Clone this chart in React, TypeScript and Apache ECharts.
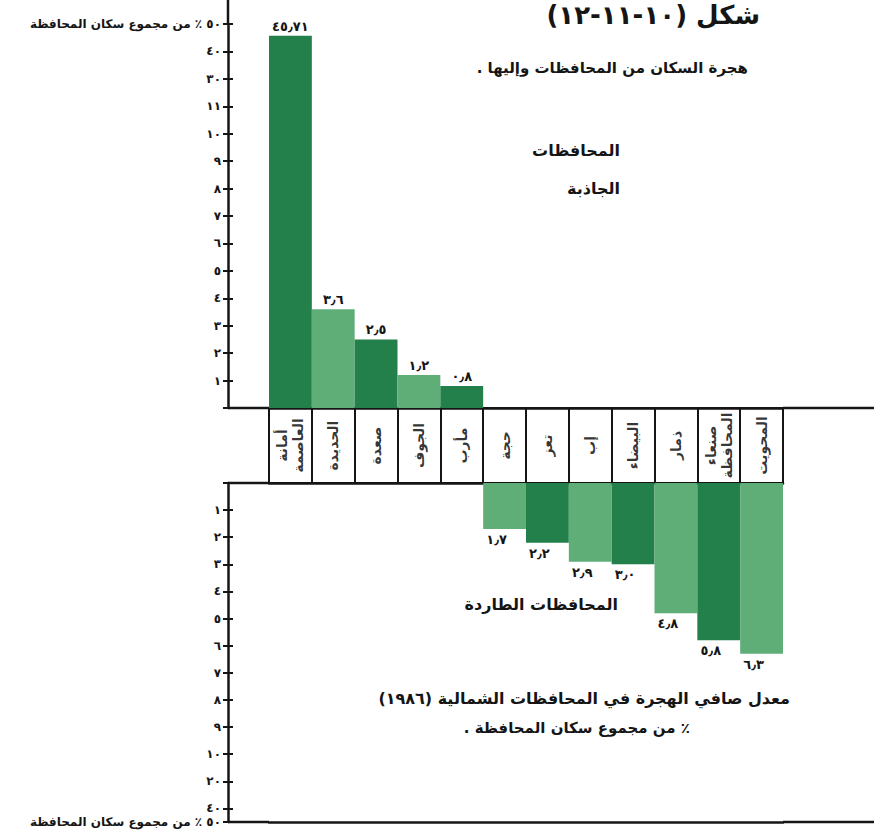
import React, { useEffect, useRef } from "react";
import * as echarts from "echarts";

// ---- data ----
const categories = [
  "أمانة\nالعاصمة",
  "الحديدة",
  "صعدة",
  "الجوف",
  "مأرب",
  "حجة",
  "تعز",
  "إب",
  "البيضاء",
  "ذمار",
  "صنعاء\nالمحافظة",
  "المحويت",
];
// net migration, % of governorate population (1986)
const netMigration = [45.71, 3.6, 2.5, 1.2, 0.8, -1.7, -2.2, -2.9, -3.0, -4.8, -5.8, -6.3];
// broken-axis tick labels above the linear part
const upperBreakTicks = [30, 40, 50];
const lowerBreakTicks = [20, 40, 50];

const titleText = "شكل (١٠-١١-١٢)";
const subtitleText = "هجرة السكان من المحافظات وإليها .";
const attractText = ["المحافظات", "الجاذبة"];
const repelText = "المحافظات الطاردة";
const noteText = ["معدل صافي الهجرة في المحافظات الشمالية (١٩٨٦)", "٪ من مجموع سكان المحافظة ."];
const axisUnitText = "٪ من مجموع سكان المحافظة";

// ---- helpers ----
const AR = "٠١٢٣٤٥٦٧٨٩";
const toArabic = (s: string) => s.replace(/[0-9]/g, (d) => AR[+d]).replace(".", "٫");
const fmtVal = (v: number) => {
  const a = Math.abs(v);
  const s = String(a).includes(".") ? String(a) : a.toFixed(1);
  return toArabic(s);
};
const rtl = (s: string) => "\u202B" + s + "\u202C";
// upper axis: linear 0..11, then one display unit per 10% from 30
const upTransform = (v: number) => (v <= 11 ? v : 12 + (v - upperBreakTicks[0]) / 10);
const upLabel = (d: number) => {
  if (d === 0) return "";
  if (d <= 11) return toArabic(String(d));
  const real = upperBreakTicks[Math.round(d - 12)];
  if (real === upperBreakTicks[upperBreakTicks.length - 1]) return rtl(toArabic(String(real)) + " " + axisUnitText);
  return toArabic(String(real));
};
const lowPos = [11, 12, 12.5];
const lowLabel = (d: number) => {
  if (d === 0) return "";
  if (d <= 10) return toArabic(String(d));
  const i = lowPos.indexOf(d);
  if (i < 0) return "";
  const real = lowerBreakTicks[i];
  if (i === lowerBreakTicks.length - 1) return rtl(toArabic(String(real)) + " " + axisUnitText);
  return toArabic(String(real));
};

const DARK = "#23804b";
const LIGHT = "#5fae78";
const INK = "#151515";
const FONT = "DejaVu Sans";

export default function App() {
  const ref = useRef<HTMLDivElement>(null);
  useEffect(() => {
    if (!ref.current) return;
    const chart = echarts.init(ref.current, undefined, { renderer: "svg" });
    const axisLineStyle = { color: INK, width: 2.5 };
    const yCommon = (grid: number, max: number, inverse: boolean, fmt: (d: number) => string, main: boolean) => ({
      type: "value",
      gridIndex: grid,
      position: "left",
      offset: 41,
      min: 0,
      max,
      interval: 1,
      inverse,
      axisLine: { show: main, onZero: false, lineStyle: axisLineStyle },
      axisTick: { show: true, inside: !main, length: 5, lineStyle: { color: INK, width: 2 } },
      axisLabel: main
        ? { show: true, formatter: fmt, color: INK, fontWeight: "bold", fontSize: 12, margin: 7, fontFamily: FONT }
        : { show: false },
      splitLine: { show: false },
    });
    const xCat = (grid: number, position: string, line: boolean) => ({
      type: "category",
      gridIndex: grid,
      data: categories,
      position,
      axisLine: { show: line, onZero: false, lineStyle: axisLineStyle },
      axisTick: { show: false, interval: 0 },
      axisLabel: { show: false, interval: 0 },
      splitLine: { show: false },
    });
    const colorByIdx = (p: any) => (p.dataIndex % 2 === 0 ? DARK : LIGHT);
    const labelStyle = { color: INK, fontWeight: "bold", fontSize: 13, fontFamily: FONT };
    const line = (x1: number, y1: number, x2: number, y2: number) => ({
      type: "line",
      shape: { x1, y1, x2, y2 },
      style: { stroke: INK, lineWidth: 2.5 },
      silent: true,
    });
    const txt = (x: number, y: number, text: string, size: number, align = "right") => ({
      type: "text",
      x,
      y,
      style: {
        text: rtl(text),
        fill: INK,
        font: `bold ${size}px "${FONT}"`,
        align,
        verticalAlign: "middle",
      },
      silent: true,
    });

    chart.setOption({
      animation: false,
      backgroundColor: "#ffffff",
      textStyle: { fontFamily: FONT },
      grid: [
        { left: 269, width: 514, top: 24, height: 384, outerBoundsMode: "none" },
        { left: 269, width: 514, top: 483, height: 339, outerBoundsMode: "none" },
        {
          left: 269,
          width: 514,
          top: 408,
          height: 75,
          show: true,
          borderColor: INK,
          borderWidth: 2,
          backgroundColor: "transparent",
          outerBoundsMode: "none",
        },
      ],
      xAxis: [
        xCat(0, "bottom", true),
        xCat(1, "top", true),
        xCat(1, "bottom", true),
        {
          ...xCat(2, "bottom", false),
          splitLine: { show: true, interval: 0, lineStyle: { color: INK, width: 2 } },
        },
      ],
      yAxis: [
        yCommon(0, 14, false, upLabel, true),
        yCommon(0, 14, false, upLabel, false),
        yCommon(1, 12.5, true, lowLabel, true),
        yCommon(1, 12.5, true, lowLabel, false),
        { type: "value", gridIndex: 2, min: 0, max: 1, show: false },
      ],
      series: [
        {
          type: "bar",
          xAxisIndex: 0,
          yAxisIndex: 0,
          barWidth: "100%",
          data: netMigration.map((v) => (v > 0 ? upTransform(v) : "-")),
          itemStyle: { color: colorByIdx },
          label: {
            show: true,
            position: "top",
            distance: 3,
            ...labelStyle,
            formatter: (p: any) => fmtVal(netMigration[p.dataIndex]),
          },
        },
        {
          type: "bar",
          xAxisIndex: 1,
          yAxisIndex: 2,
          barWidth: "100%",
          data: netMigration.map((v) => (v < 0 ? -v : "-")),
          itemStyle: { color: colorByIdx },
          label: {
            show: true,
            position: "bottom",
            distance: 4,
            offset: [-8, 0],
            ...labelStyle,
            formatter: (p: any) => fmtVal(netMigration[p.dataIndex]),
          },
        },
        {
          type: "scatter",
          xAxisIndex: 3,
          yAxisIndex: 4,
          symbol: "circle",
          symbolSize: 2,
          itemStyle: { color: "rgba(0,0,0,0)" },
          data: categories.map((_, i) => [i, 0.5]),
          labelLayout: { hideOverlap: false },
          label: {
            show: true,
            position: "inside",
            rotate: 90,
            formatter: (p: any) => categories[p.dataIndex],
            color: "#000",
            fontWeight: "bold",
            fontSize: 14,
            lineHeight: 16,
            fontFamily: FONT,
          },
        },
      ],
      graphic: [
        line(228, 0, 228, 24),
        line(228, 408, 269, 408),
        line(783, 408, 874, 408),
        line(228, 483, 269, 483),
        line(228, 822, 269, 822),
        line(783, 822, 874, 822),
        txt(760, 15, titleText, 26),
        txt(748, 68, subtitleText, 15),
        txt(620, 150, attractText[0], 16),
        txt(620, 188, attractText[1], 16),
        txt(618, 604, repelText, 16),
        txt(790, 698, noteText[0], 16),
        txt(690, 728, noteText[1], 15),
      ],
    });
    return () => chart.dispose();
  }, []);
  return (
    <div
      ref={ref}
      style={{ position: "fixed", left: 0, top: 0, width: 874, height: 834, background: "#fff" }}
    />
  );
}
